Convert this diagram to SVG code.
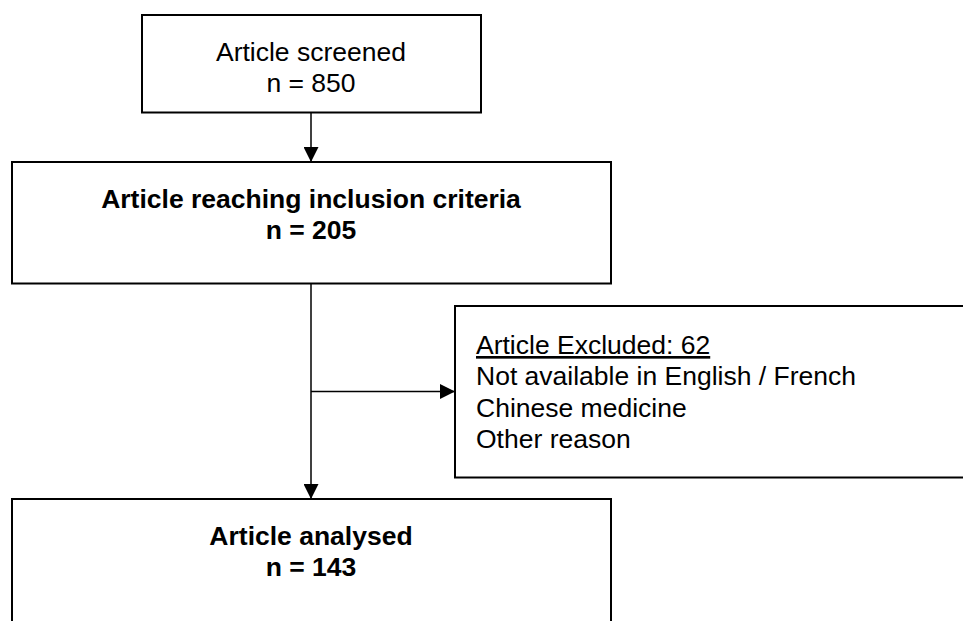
<svg xmlns="http://www.w3.org/2000/svg" width="963" height="621" viewBox="0 0 963 621">
<defs>
<style>
.box{fill:#fff;stroke:#000;stroke-width:2}
.conn{fill:none;stroke:#000;stroke-width:1.5}
.t{font-family:"Liberation Sans",Arial,sans-serif;font-size:26.5px;fill:#000}
.c{text-anchor:middle}
.b{font-weight:bold}
</style>
<marker id="arr" markerWidth="15" markerHeight="15" refX="15" refY="7.5" orient="auto" markerUnits="userSpaceOnUse">
<path d="M0,0 L15,7.5 L0,15 Z" fill="#000"/>
</marker>
</defs>
<rect width="963" height="621" fill="#fff"/>
<g id="connectors">
<line class="conn" x1="311" y1="113" x2="311" y2="162" marker-end="url(#arr)"/>
<line class="conn" x1="311" y1="284" x2="311" y2="499" marker-end="url(#arr)"/>
<line class="conn" x1="311" y1="391.5" x2="455" y2="391.5" marker-end="url(#arr)"/>
</g>
<g id="screened">
<rect class="box" x="142" y="15" width="339" height="97.5"/>
<text class="t c" x="311" y="61">Article screened</text>
<text class="t c" x="311" y="92">n = 850</text>
</g>
<g id="inclusion">
<rect class="box" x="12" y="162" width="599" height="121.5"/>
<text class="t c b" x="311" y="208">Article reaching inclusion criteria</text>
<text class="t c b" x="311" y="239">n = 205</text>
</g>
<g id="excluded">
<rect class="box" x="455" y="306" width="520" height="171.5"/>
<text class="t" x="476" y="354" text-decoration="underline">Article Excluded: 62</text>
<text class="t" x="476" y="385">Not available in English / French</text>
<text class="t" x="476" y="417">Chinese medicine</text>
<text class="t" x="476" y="448">Other reason</text>
</g>
<g id="analysed">
<rect class="box" x="12" y="499" width="599" height="140"/>
<text class="t c b" x="311" y="545">Article analysed</text>
<text class="t c b" x="311" y="576">n = 143</text>
</g>
</svg>
